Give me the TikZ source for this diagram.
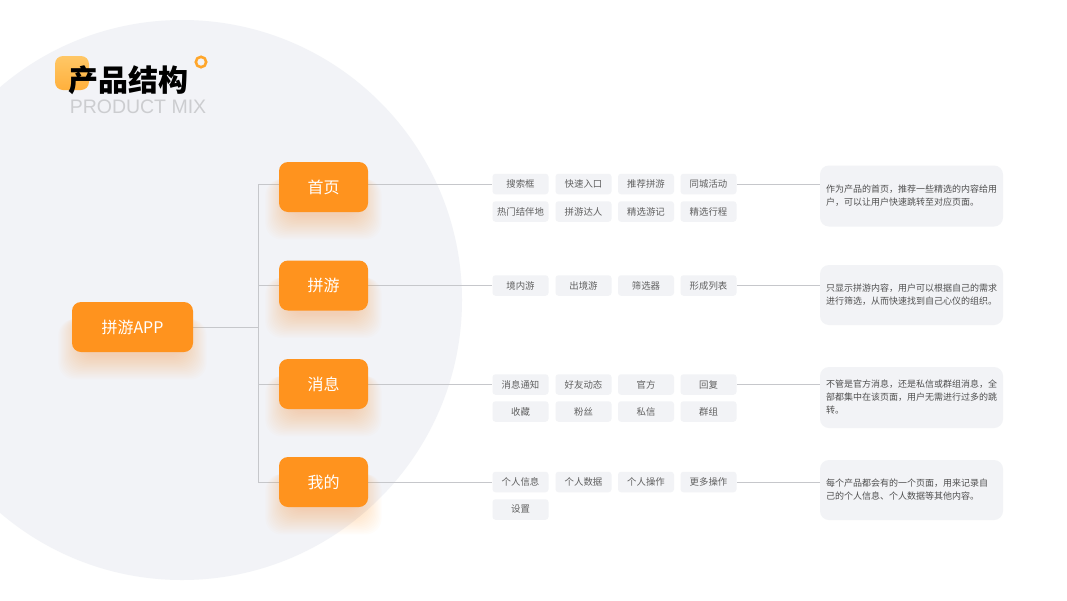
\documentclass[tikz,border=0pt]{standalone}
\usepackage{fontspec}
\setmainfont{Noto Sans CJK SC}
\newfontfamily\latinsans{Liberation Sans}
\usetikzlibrary{calc}
\definecolor{org}{HTML}{FF931E}
\definecolor{glowc}{HTML}{FF9A2E}
\definecolor{circbg}{HTML}{F2F3F7}
\definecolor{chipbg}{HTML}{F2F3F6}
\definecolor{chiptx}{HTML}{606060}
\definecolor{desctx}{HTML}{4F4F4F}
\definecolor{linec}{HTML}{C6C7CB}
\definecolor{mixc}{HTML}{CCCDD0}
\definecolor{sqa}{HTML}{FFC766}
\definecolor{sqb}{HTML}{FFB03C}
\definecolor{ringc}{HTML}{FFA62B}
\pgfdeclarelayer{back}
\pgfdeclarelayer{lines}
\pgfdeclarelayer{glow}
\pgfsetlayers{back,lines,glow,main}
\newcommand\myglow[1]{%
  \foreach \i in {1,...,18}{%
    \fill[glowc,opacity=0.018,rounded corners=16pt]
      ([xshift={(10-\i*1.3)*1pt},yshift={(-12-\i*0.3)*1pt}]#1.north west) rectangle
      ([xshift={(-10+\i*1.3)*1pt},yshift={(-2-\i*1.4)*1pt}]#1.south east);}}
\begin{document}
\begin{tikzpicture}[x=1pt,y=-1pt,
  orgbox/.style={fill=org,text=white,rounded corners=9pt,inner sep=0pt,
    font=\fontsize{16}{18}\selectfont},
  l1box/.style={orgbox,minimum width=89pt,minimum height=50pt},
  rootbox/.style={orgbox,minimum width=121pt,minimum height=50pt},
  chip/.style={fill=chipbg,text=chiptx,rounded corners=3pt,inner sep=0pt,
    minimum width=56pt,minimum height=20.5pt,font=\fontsize{9.4}{10}\selectfont},
  desc/.style={fill=chipbg,text=desctx,rounded corners=9pt,inner xsep=6pt,inner ysep=0pt,
    minimum width=183pt,text width=171pt,align=left,
    font=\fontsize{9}{13}\selectfont},
  conn/.style={draw=linec,line width=0.8pt}]
\useasboundingbox (0,0) rectangle (1067,600);
\begin{pgfonlayer}{back}
  \fill[white] (0,0) rectangle (1067,600);
  \fill[circbg] (182,300) circle[radius=280];
\end{pgfonlayer}

% title
\shade[rounded corners=8pt,top color=sqa,bottom color=sqb] (55,56) rectangle (89,90);
\node[font=\bfseries\fontsize{30}{32}\selectfont,text=black,inner sep=0pt] (title) at (128,80) {产品结构};
\node[font=\latinsans\fontsize{19.5}{20}\selectfont,text=mixc,inner sep=0pt] (mix) at (138,107) {PRODUCT MIX};
\draw[ringc,line width=2.6pt] (201,62) circle[radius=5.2];

% root and level 1
\node[rootbox] (root) at (132.5,327) {拼游APP};
\node[l1box] (n1) at (323.5,187) {首页};
\node[l1box] (n2) at (323.5,285.5) {拼游};
\node[l1box] (n3) at (323.5,384) {消息};
\node[l1box] (n4) at (323.5,482) {我的};

% chips
\node[chip] (c11) at (520.5,184) {搜索框};
\node[chip] (c12) at (583.5,184) {快速入口};
\node[chip] (c13) at (646,184) {推荐拼游};
\node[chip] (c14) at (708.5,184) {同城活动};
\node[chip] (c15) at (520.5,211.5) {热门结伴地};
\node[chip] (c16) at (583.5,211.5) {拼游达人};
\node[chip] (c17) at (646,211.5) {精选游记};
\node[chip] (c18) at (708.5,211.5) {精选行程};

\node[chip] (c21) at (520.5,285.5) {境内游};
\node[chip] (c22) at (583.5,285.5) {出境游};
\node[chip] (c23) at (646,285.5) {筛选器};
\node[chip] (c24) at (708.5,285.5) {形成列表};

\node[chip] (c31) at (520.5,384.5) {消息通知};
\node[chip] (c32) at (583.5,384.5) {好友动态};
\node[chip] (c33) at (646,384.5) {官方};
\node[chip] (c34) at (708.5,384.5) {回复};
\node[chip] (c35) at (520.5,411.5) {收藏};
\node[chip] (c36) at (583.5,411.5) {粉丝};
\node[chip] (c37) at (646,411.5) {私信};
\node[chip] (c38) at (708.5,411.5) {群组};

\node[chip] (c41) at (520.5,482) {个人信息};
\node[chip] (c42) at (583.5,482) {个人数据};
\node[chip] (c43) at (646,482) {个人操作};
\node[chip] (c44) at (708.5,482) {更多操作};
\node[chip] (c45) at (520.5,509.5) {设置};

% descriptions
\node[desc,minimum height=61pt] (d1) at (911.5,196) {作为产品的首页，推荐一些精选的内容给用\\户，可以让用户快速跳转至对应页面。};
\node[desc,minimum height=60pt] (d2) at (911.5,295) {只显示拼游内容，用户可以根据自己的需求\\进行筛选，从而快速找到自己心仪的组织。};
\node[desc,minimum height=61pt] (d3) at (911.5,397.5) {不管是官方消息，还是私信或群组消息，全\\部都集中在该页面，用户无需进行过多的跳\\转。};
\node[desc,minimum height=60pt] (d4) at (911.5,490) {每个产品都会有的一个页面，用来记录自\\己的个人信息、个人数据等其他内容。};

% glows
\begin{pgfonlayer}{glow}
  \myglow{root}\myglow{n1}\myglow{n2}\myglow{n3}\myglow{n4}
\end{pgfonlayer}

% connectors
\begin{pgfonlayer}{lines}
  \coordinate (jx) at (258,327);
  \draw[conn] (root.east) -- (jx);
  \draw[conn] (jx |- c11.west) -- (jx |- c41.west);
  \draw[conn] (jx |- c11.west) -- (c11.west);
  \draw[conn] (jx |- c21.west) -- (c21.west);
  \draw[conn] (jx |- c31.west) -- (c31.west);
  \draw[conn] (jx |- c41.west) -- (c41.west);
  \draw[conn] (c14.east) -- (c14.east -| d1.west);
  \draw[conn] (c24.east) -- (c24.east -| d2.west);
  \draw[conn] (c34.east) -- (c34.east -| d3.west);
  \draw[conn] (c44.east) -- (c44.east -| d4.west);
\end{pgfonlayer}
\end{tikzpicture}
\end{document}
